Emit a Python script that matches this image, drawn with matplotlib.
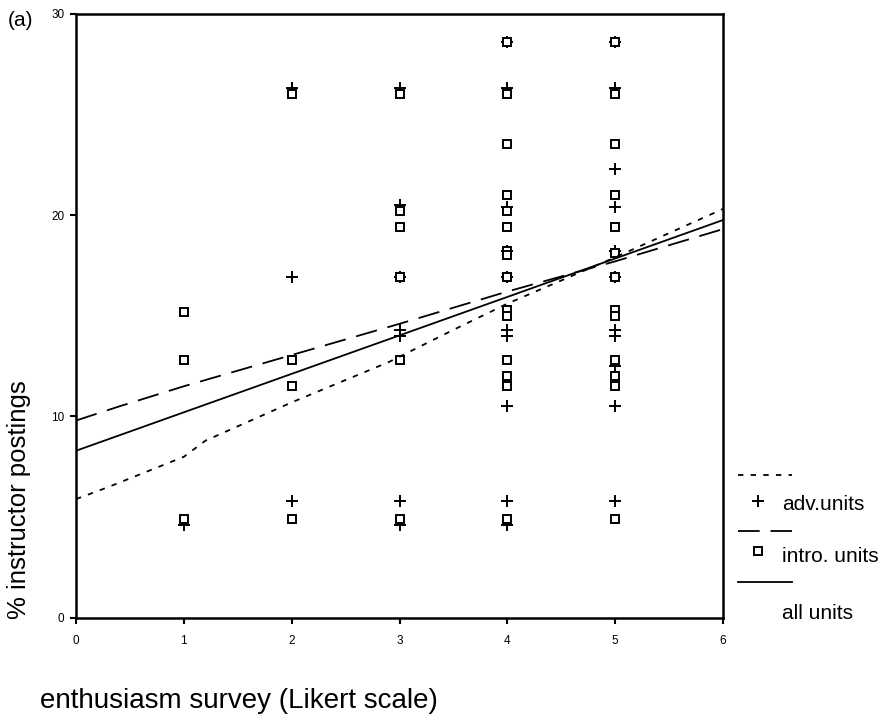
import matplotlib
matplotlib.use("Agg")
import matplotlib.pyplot as plt
import numpy as np

plt.rcParams['font.family'] = ['Liberation Sans', 'DejaVu Sans']

# advanced units (plus markers)
adv_x = [1,
         2, 2, 2,
         3, 3, 3, 3, 3, 3, 3,
         4, 4, 4, 4, 4, 4, 4, 4, 4, 4,
         5, 5, 5, 5, 5, 5, 5, 5, 5, 5, 5]
adv_y = [4.6,
         26.3, 16.9, 5.8,
         26.3, 20.5, 16.9, 14.3, 14.0, 5.8, 4.6,
         28.6, 26.3, 20.4, 18.2, 16.9, 14.3, 14.0, 10.5, 5.8, 4.6,
         28.6, 26.3, 22.3, 20.4, 18.2, 16.9, 14.3, 14.0, 12.5, 10.5, 5.8]

# introductory units (square markers)
intro_x = [1, 1, 1,
           2, 2, 2, 2,
           3, 3, 3, 3, 3, 3,
           4, 4, 4, 4, 4, 4, 4, 4, 4, 4, 4, 4, 4, 4, 4,
           5, 5, 5, 5, 5, 5, 5, 5, 5, 5, 5, 5, 5]
intro_y = [15.2, 12.8, 4.9,
           26.0, 12.8, 11.5, 4.9,
           26.0, 20.2, 19.4, 16.9, 12.8, 4.9,
           28.6, 26.0, 23.5, 21.0, 20.2, 19.4, 18.2, 18.0, 16.9, 15.3, 15.0, 12.8, 12.0, 11.5, 4.9,
           28.6, 26.0, 23.5, 21.0, 19.4, 18.1, 16.9, 15.3, 15.0, 12.8, 12.0, 11.5, 4.9]

# fitted trend lines
adv_fit_x = [0, 0.3, 1.0, 1.2, 2.0, 2.9, 3.5, 4.0, 5.0, 6.0]
adv_fit_y = [5.9, 6.5, 8.0, 8.8, 10.7, 12.7, 14.3, 15.6, 17.9, 20.3]
intro_fit_x = [0, 0.4, 1, 2, 3, 4, 5, 6]
intro_fit_y = [9.8, 10.5, 11.5, 13.05, 14.6, 16.2, 17.7, 19.3]
all_fit_x = [0, 6]
all_fit_y = [8.3, 19.75]

fig = plt.figure(figsize=(8.82, 7.19), dpi=100)
ax = fig.add_axes([0.0862, 0.1405, 0.7335, 0.8407])

ax.plot(adv_x, adv_y, linestyle='none', marker='+', markersize=9,
        markeredgewidth=1.4, color='black')
ax.plot(intro_x, intro_y, linestyle='none', marker='s', markersize=6,
        markerfacecolor='white', markeredgewidth=1.4, color='black')

ax.plot(adv_fit_x, adv_fit_y, color='black', linewidth=1.3, dashes=(3, 4))
ax.plot(intro_fit_x, intro_fit_y, color='black', linewidth=1.3, dashes=(12, 6))
ax.plot(all_fit_x, all_fit_y, color='black', linewidth=1.3)

ax.set_xlim(0, 6)
ax.set_ylim(0, 30)
ax.set_xticks(range(0, 7))
ax.set_yticks([0, 10, 20, 30])
ax.tick_params(labelsize=8.5, length=4, width=1.5, direction='out')
ax.tick_params(axis='y', pad=4.5)
ax.tick_params(axis='x', pad=8)
for s in ax.spines.values():
    s.set_linewidth(1.8)

fig.text(0.021, 0.305, '% instructor postings', rotation=90,
         ha='center', va='center', fontsize=18.5)
fig.text(0.045, 0.025, 'enthusiasm survey (Likert scale)',
         ha='left', va='center', fontsize=20)
fig.text(0.009, 0.972, '(a)', ha='left', va='center', fontsize=15)

# legend drawn by hand on the right
lg = fig.add_axes([0.83, 0.1, 0.17, 0.3])
lg.set_xlim(0, 1)
lg.set_ylim(0, 1)
lg.axis('off')
lg.plot([0.04, 0.4], [0.797, 0.797], color='black', linewidth=1.3, dashes=(3, 4))
lg.plot([0.173], [0.677], marker='+', markersize=9, markeredgewidth=1.4, color='black')
lg.text(0.333, 0.662, 'adv.units', fontsize=15, va='center')
lg.plot([0.04, 0.4], [0.538, 0.538], color='black', linewidth=1.3, dashes=(12, 6))
lg.plot([0.173], [0.445], marker='s', markersize=6, markerfacecolor='white',
        markeredgewidth=1.4, color='black')
lg.text(0.333, 0.418, 'intro. units', fontsize=15, va='center')
lg.plot([0.04, 0.4], [0.301, 0.301], color='black', linewidth=1.3)
lg.text(0.333, 0.158, 'all units', fontsize=15, va='center')

fig.savefig('out.png', dpi=100)
